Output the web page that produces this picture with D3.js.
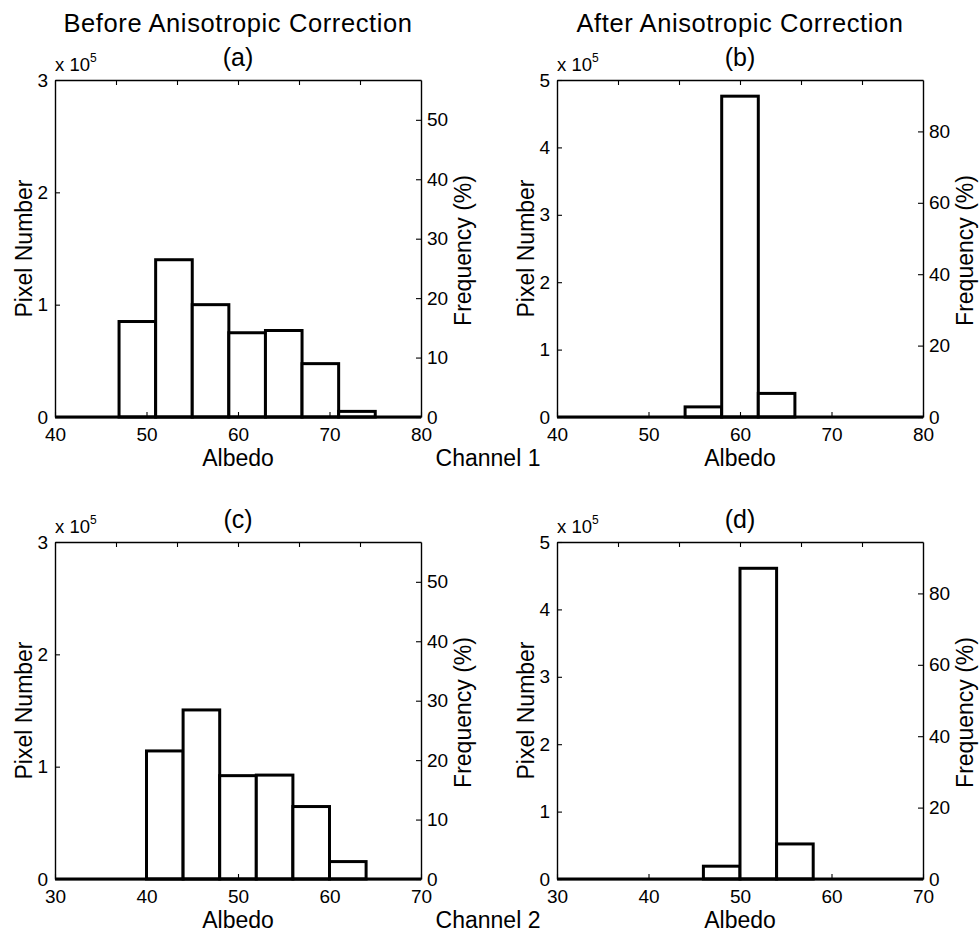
<!DOCTYPE html>
<html>
<head>
<meta charset="utf-8">
<script src="https://cdn.jsdelivr.net/npm/d3@7"></script>
<style>
  html, body { margin: 0; padding: 0; background: #fff; }
  svg { display: block; }
  text { font-family: "Liberation Sans", Arial, Helvetica, sans-serif; fill: #000; }
</style>
</head>
<body>
<svg id="chart" width="979" height="933"></svg>
<script>
// ---- Data ----
const columnTitles = ["Before Anisotropic Correction", "After Anisotropic Correction"];
const panelLetters = ["(a)", "(b)", "(c)", "(d)"];
const channelLabels = ["Channel 1", "Channel 2"];
const binWidth = 4;

// Channel 1, before correction (a)
const binStartsA = [47, 51, 55, 59, 63, 67, 71];
const countsA    = [0.85e5, 1.40e5, 1.00e5, 0.75e5, 0.77e5, 0.475e5, 0.05e5];
// Channel 1, after correction (b)
const binStartsB = [54, 58, 62];
const countsB    = [0.15e5, 4.76e5, 0.35e5];
// Channel 2, before correction (c)
const binStartsC = [40, 44, 48, 52, 56, 60];
const countsC    = [1.14e5, 1.505e5, 0.92e5, 0.925e5, 0.645e5, 0.155e5];
// Channel 2, after correction (d)
const binStartsD = [46, 50, 54];
const countsD    = [0.19e5, 4.61e5, 0.52e5];

// Axis ranges and ticks
const xDomainCh1 = [40, 80];
const xDomainCh2 = [30, 70];
const xTicksCh1 = [40, 50, 60, 70, 80];
const xTicksCh2 = [30, 40, 50, 60, 70];
const yMaxBefore = 3e5, yMaxAfter = 5e5;
const yTicksBefore = [0, 1e5, 2e5, 3e5];
const yTicksAfter = [0, 1e5, 2e5, 3e5, 4e5, 5e5];
const freqMaxBefore = 56.7, freqMaxAfter = 94.4;
const freqTicksBefore = [0, 10, 20, 30, 40, 50];
const freqTicksAfter = [0, 20, 40, 60, 80];
const yUnitLabel = "x 10";
const yUnitExp = "5";
const xLabel = "Albedo", yLabel = "Pixel Number", y2Label = "Frequency (%)";

// ---- Layout ----
const colX = [[55, 421], [557, 923]];
const rowY = [[80, 417], [542, 879]];

const panels = [
  {letter: panelLetters[0], col: 0, row: 0, starts: binStartsA, counts: countsA, xd: xDomainCh1, xt: xTicksCh1, ymax: yMaxBefore, yt: yTicksBefore, fmax: freqMaxBefore, ft: freqTicksBefore},
  {letter: panelLetters[1], col: 1, row: 0, starts: binStartsB, counts: countsB, xd: xDomainCh1, xt: xTicksCh1, ymax: yMaxAfter, yt: yTicksAfter, fmax: freqMaxAfter, ft: freqTicksAfter},
  {letter: panelLetters[2], col: 0, row: 1, starts: binStartsC, counts: countsC, xd: xDomainCh2, xt: xTicksCh2, ymax: yMaxBefore, yt: yTicksBefore, fmax: freqMaxBefore, ft: freqTicksBefore},
  {letter: panelLetters[3], col: 1, row: 1, starts: binStartsD, counts: countsD, xd: xDomainCh2, xt: xTicksCh2, ymax: yMaxAfter, yt: yTicksAfter, fmax: freqMaxAfter, ft: freqTicksAfter}
];

const svg = d3.select("#chart");
const tickFont = 19, labelFont = 23;

panels.forEach(p => {
  const [L, R] = colX[p.col];
  const [T, B] = rowY[p.row];
  const x = d3.scaleLinear().domain(p.xd).range([L, R]);
  const y = d3.scaleLinear().domain([0, p.ymax]).range([B, T]);
  const yr = d3.scaleLinear().domain([0, p.fmax]).range([B, T]);
  const g = svg.append("g");

  // bars
  const bins = p.starts.map((s, i) => ({x0: s, x1: s + binWidth, n: p.counts[i]}));
  g.selectAll("rect.bar").data(bins).join("rect")
    .attr("class", "bar")
    .attr("x", d => x(d.x0))
    .attr("y", d => y(d.n))
    .attr("width", d => x(d.x1) - x(d.x0))
    .attr("height", d => y(0) - y(d.n))
    .attr("fill", "#fff")
    .attr("stroke", "#000")
    .attr("stroke-width", 3);
  // zero baseline across the range
  g.append("line")
    .attr("x1", x(p.xd[0])).attr("x2", x(p.xd[1]))
    .attr("y1", y(0)).attr("y2", y(0))
    .attr("stroke", "#000").attr("stroke-width", 3);

  const styleAxis = sel => {
    sel.selectAll("path.domain").attr("stroke", "#000").attr("stroke-width", 1.4);
    sel.selectAll(".tick line").attr("stroke", "#000").attr("stroke-width", 1.1);
    sel.selectAll(".tick text").attr("font-size", tickFont)
      .attr("font-family", '"Liberation Sans", Arial, Helvetica, sans-serif').attr("fill", "#000");
  };

  // bottom axis
  g.append("g").attr("transform", `translate(0,${B})`)
    .call(d3.axisBottom(x).tickValues(p.xt).tickSize(-5).tickSizeOuter(0).tickPadding(11).tickFormat(d3.format("d")))
    .call(styleAxis);
  // top axis (ticks only, six intervals)
  const topTicks = d3.range(1, 6).map(k => p.xd[0] + k * (p.xd[1] - p.xd[0]) / 6);
  g.append("g").attr("transform", `translate(0,${T})`)
    .call(d3.axisTop(x).tickValues(topTicks).tickSize(-5).tickSizeOuter(0).tickFormat(""))
    .call(styleAxis);
  // left axis
  g.append("g").attr("transform", `translate(${L},0)`)
    .call(d3.axisLeft(y).tickValues(p.yt).tickSize(-5).tickSizeOuter(0).tickPadding(7).tickFormat(d => d3.format("d")(d / 1e5)))
    .call(styleAxis);
  // right axis
  g.append("g").attr("transform", `translate(${R},0)`)
    .call(d3.axisRight(yr).tickValues(p.ft).tickSize(-5).tickSizeOuter(0).tickPadding(6).tickFormat(d3.format("d")))
    .call(styleAxis);

  // x 10^5
  const ut = g.append("text").attr("x", L).attr("y", T - 9).attr("font-size", 18.5);
  ut.append("tspan").text(yUnitLabel);
  ut.append("tspan").attr("dy", -9).attr("font-size", 12).text(yUnitExp);

  // panel letter
  g.append("text").attr("x", (L + R) / 2).attr("y", T - 14)
    .attr("text-anchor", "middle").attr("font-size", 25).text(p.letter);

  // axis labels
  g.append("text").attr("x", (L + R) / 2).attr("y", B + 49)
    .attr("text-anchor", "middle").attr("font-size", labelFont).text(xLabel);
  g.append("text")
    .attr("transform", `translate(${L - 23},${(T + B) / 2}) rotate(-90)`)
    .attr("text-anchor", "middle").attr("font-size", labelFont).text(yLabel);
  g.append("text")
    .attr("transform", `translate(${R + 50},${(T + B) / 2 + 2}) rotate(-90)`)
    .attr("text-anchor", "middle").attr("font-size", labelFont).text(y2Label);
});

// column titles
columnTitles.forEach((t, i) => {
  svg.append("text").attr("x", (colX[i][0] + colX[i][1]) / 2).attr("y", 32)
    .attr("text-anchor", "middle").attr("font-size", 25.5)
    .attr("letter-spacing", 0.6).text(t);
});
// channel labels
channelLabels.forEach((t, i) => {
  svg.append("text").attr("x", 488).attr("y", rowY[i][1] + 49)
    .attr("text-anchor", "middle").attr("font-size", labelFont).text(t);
});
</script>
</body>
</html>
